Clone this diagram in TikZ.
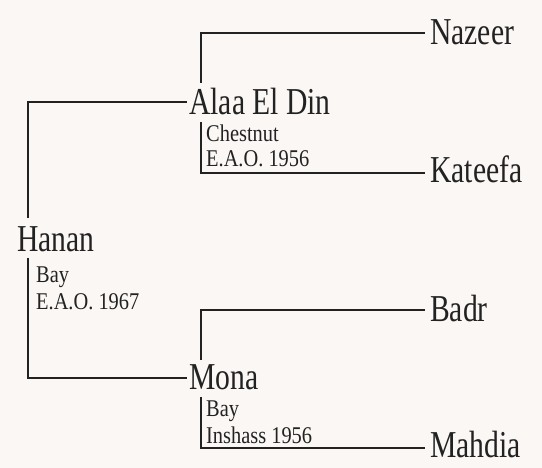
\documentclass[tikz,border=0pt]{standalone}
\usepackage{fontspec}
\newfontfamily\bigf[FakeStretch=0.78]{Liberation Serif}
\newfontfamily\smallf[FakeStretch=0.85]{Liberation Serif}
\definecolor{bg}{HTML}{FAF7F4}
\definecolor{ink}{HTML}{222222}
\begin{document}
\begin{tikzpicture}[x=1pt,y=-1pt,
  horse/.style={inner sep=0pt,anchor=base west,text=ink,font=\bigf\fontsize{38}{40}\selectfont},
  info/.style={inner sep=0pt,anchor=base west,text=ink,font=\smallf\fontsize{24}{27}\selectfont},
  link/.style={draw=ink,line width=1.8pt}]
\fill[bg] (0,0) rectangle (542,468);
\useasboundingbox (0,0) rectangle (542,468);
% nodes
\node[horse] (hanan) at (17,252) {Hanan};
\node[info] (hanan1) at (36,283) {Bay};
\node[info] (hanan2) at (36,310) {E.A.O. 1967};
\node[horse] (alaa) at (189,115) {Alaa El Din};
\node[info] (alaa1) at (206,142) {Chestnut};
\node[info] (alaa2) at (206,167) {E.A.O. 1956};
\node[horse] (mona) at (189,390) {Mona};
\node[info] (mona1) at (206,417) {Bay};
\node[info] (mona2) at (206,443) {Inshass 1956};
\node[horse] (nazeer) at (430,45) {Nazeer};
\node[horse] (kateefa) at (430,183) {Kateefa};
\node[horse] (badr) at (430,322) {Badr};
\node[horse] (mahdia) at (430,458) {Mahdia};
% connectors
\draw[link] ([shift={(11,-34)}]hanan.base west) |- ([shift={(-2,-13)}]alaa.base west);
\draw[link] ([shift={(11,6)}]hanan.base west) |- ([shift={(-2,-12)}]mona.base west);
\draw[link] ([shift={(12,-32)}]alaa.base west) |- ([shift={(-5,-12)}]nazeer.base west);
\draw[link] ([shift={(12,7)}]alaa.base west) |- ([shift={(-5,-10)}]kateefa.base west);
\draw[link] ([shift={(12,-30)}]mona.base west) |- ([shift={(-5,-12)}]badr.base west);
\draw[link] ([shift={(12,7)}]mona.base west) |- ([shift={(-5,-10)}]mahdia.base west);
\end{tikzpicture}
\end{document}
